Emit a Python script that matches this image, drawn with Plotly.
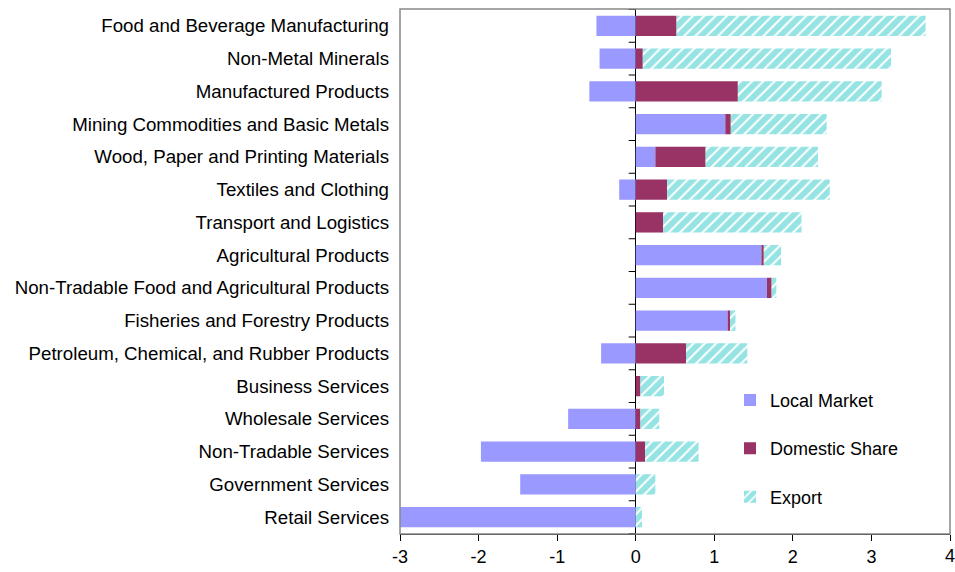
import plotly.graph_objects as go

categories = [
    "Food and Beverage Manufacturing",
    "Non-Metal Minerals",
    "Manufactured Products",
    "Mining Commodities and Basic Metals",
    "Wood, Paper and Printing Materials",
    "Textiles and Clothing",
    "Transport and Logistics",
    "Agricultural Products",
    "Non-Tradable Food and Agricultural Products",
    "Fisheries and Forestry Products",
    "Petroleum, Chemical, and Rubber Products",
    "Business Services",
    "Wholesale Services",
    "Non-Tradable Services",
    "Government Services",
    "Retail Services",
]
local_market = [-0.50, -0.46, -0.59, 1.14, 0.25, -0.21, 0.0, 1.60, 1.67, 1.17, -0.44, 0.0, -0.86, -1.97, -1.47, -3.00]
domestic_share = [0.52, 0.09, 1.30, 0.07, 0.64, 0.40, 0.35, 0.03, 0.06, 0.03, 0.64, 0.06, 0.06, 0.12, 0.0, 0.0]
export = [3.17, 3.16, 1.83, 1.22, 1.43, 2.07, 1.76, 0.22, 0.06, 0.07, 0.78, 0.30, 0.24, 0.68, 0.25, 0.08]
x_ticks = [-3, -2, -1, 0, 1, 2, 3, 4]

FONT = "Liberation Sans, Arial, sans-serif"

fig = go.Figure()
fig.add_trace(go.Bar(
    y=categories, x=local_market, orientation="h", name="Local Market",
    marker=dict(color="#9999FF", line=dict(width=0)), legendgroup="a",
))
fig.add_trace(go.Bar(
    y=categories, x=domestic_share, orientation="h", name="Domestic Share",
    marker=dict(color="#993366", line=dict(width=0)), legendgroup="b",
))
fig.add_trace(go.Bar(
    y=categories, x=export, orientation="h", name="Export",
    marker=dict(color="white", line=dict(width=0),
                pattern=dict(shape="/", fgcolor="#2EC8C8", bgcolor="white",
                             size=8, solidity=0.75, fillmode="overlay")),
    legendgroup="c",
))

# small tick marks on the zero line at category boundaries
for i in range(len(categories) + 1):
    fig.add_shape(type="line", xref="x", yref="y", xsizemode="pixel", xanchor=0,
                  x0=-7, x1=0, y0=i - 0.5, y1=i - 0.5,
                  line=dict(color="black", width=1))

# the last x tick label sits at the very edge of the page; draw it as text
tick_text = [str(v) for v in x_ticks]
fig.add_annotation(x=x_ticks[-1], xref="x", y=0, yref="paper", yanchor="top",
                   yshift=-10, text=tick_text[-1], showarrow=False,
                   font=dict(family=FONT, size=18, color="black"))

fig.update_layout(
    width=955, height=572,
    barmode="relative", bargap=0.38,
    plot_bgcolor="white", paper_bgcolor="white",
    margin=dict(l=400, r=5, t=9, b=38, autoexpand=False),
    font=dict(family=FONT, size=18, color="black"),
    legend=dict(x=0.6, y=0.29, xanchor="left", yanchor="top",
                bgcolor="rgba(0,0,0,0)", tracegroupgap=22,
                font=dict(size=18), itemwidth=30),
    showlegend=True,
    shapes=list(fig.layout.shapes) + [dict(type="rect", xref="paper", yref="paper",
                                           x0=0, x1=1, y0=0, y1=1,
                                           line=dict(color="#888888", width=1.5))],
)
fig.update_xaxes(
    range=[-3, 4], tickvals=x_ticks, ticktext=tick_text[:-1] + [""],
    showgrid=False, zeroline=True, zerolinecolor="black", zerolinewidth=1,
    showline=True, linecolor="black", linewidth=1,
    ticks="outside", ticklen=6, tickcolor="black",
    tickfont=dict(size=18), automargin=False,
)
fig.update_yaxes(
    categoryorder="array", categoryarray=categories, autorange="reversed",
    showgrid=False, showline=False, ticks="", ticklabelstandoff=10,
    tickfont=dict(size=18.7), automargin=False,
)

fig.write_html("out.html")
